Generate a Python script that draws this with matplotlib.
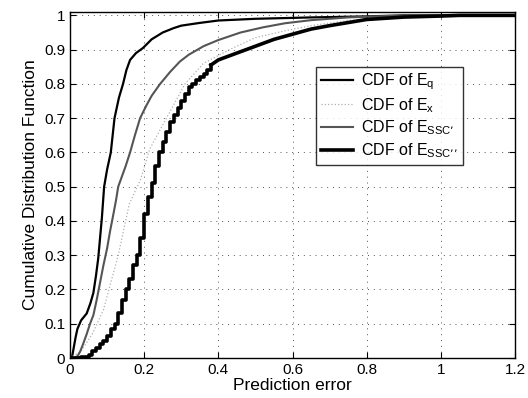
import matplotlib
matplotlib.use("Agg")
import matplotlib.pyplot as plt

plt.rcParams['font.family'] = ['Liberation Sans', 'DejaVu Sans']

# CDF of E_q
xq = [0.0, 0.005, 0.01, 0.015, 0.02, 0.03, 0.045, 0.055, 0.063, 0.07, 0.076, 0.081,
      0.086, 0.092, 0.10, 0.11, 0.12, 0.132, 0.143, 0.152, 0.162, 0.178, 0.197,
      0.22, 0.25, 0.28, 0.30, 0.35, 0.40, 0.50, 0.65, 0.80, 0.90, 1.2]
yq = [0.0, 0.0, 0.03, 0.06, 0.085, 0.11, 0.13, 0.16, 0.19, 0.24, 0.29, 0.35,
      0.41, 0.50, 0.55, 0.60, 0.70, 0.76, 0.80, 0.84, 0.87, 0.89, 0.905,
      0.93, 0.95, 0.963, 0.97, 0.978, 0.985, 0.99, 0.994, 0.997, 1.0, 1.0]

# CDF of E_x
xx = [0.0, 0.03, 0.06, 0.09, 0.13, 0.16, 0.19, 0.215, 0.26, 0.31, 0.36, 0.43,
      0.50, 0.58, 0.65, 0.75, 0.85, 1.0, 1.2]
yx = [0.0, 0.02, 0.07, 0.14, 0.30, 0.45, 0.52, 0.61, 0.70, 0.80, 0.86, 0.90,
      0.935, 0.955, 0.97, 0.985, 0.993, 1.0, 1.0]

# CDF of E_SSC'
xs1 = [0.0, 0.01, 0.02, 0.027, 0.035, 0.045, 0.054, 0.063, 0.072, 0.081, 0.09,
       0.10, 0.108, 0.117, 0.124, 0.13, 0.14, 0.15, 0.162, 0.175, 0.189, 0.205,
       0.22, 0.243, 0.27, 0.296, 0.32, 0.36, 0.40, 0.46, 0.52, 0.58, 0.65, 0.75,
       0.85, 1.0, 1.2]
ys1 = [0.0, 0.0, 0.005, 0.018, 0.04, 0.07, 0.10, 0.125, 0.17, 0.22, 0.27,
       0.32, 0.37, 0.42, 0.46, 0.50, 0.53, 0.56, 0.60, 0.65, 0.70, 0.735,
       0.765, 0.80, 0.835, 0.865, 0.885, 0.91, 0.928, 0.95, 0.965, 0.977, 0.986, 0.994,
       0.998, 1.0, 1.0]

# CDF of E_SSC'' (stepped part, then smooth tail)
xs2 = [0.0, 0.03, 0.05, 0.06, 0.07, 0.08, 0.09, 0.10, 0.11, 0.12, 0.13, 0.14,
       0.15, 0.16, 0.17, 0.18, 0.19, 0.20, 0.21, 0.22, 0.23, 0.24, 0.25, 0.26,
       0.27, 0.28, 0.29, 0.30, 0.31, 0.32, 0.33, 0.34, 0.35, 0.36, 0.37, 0.38]
ys2 = [0.0, 0.003, 0.01, 0.02, 0.03, 0.04, 0.05, 0.065, 0.085, 0.10, 0.13, 0.17,
       0.20, 0.23, 0.27, 0.30, 0.35, 0.42, 0.47, 0.51, 0.56, 0.60, 0.63, 0.66,
       0.69, 0.71, 0.73, 0.75, 0.77, 0.79, 0.80, 0.81, 0.82, 0.83, 0.842, 0.855]
xs2_tail = [0.38, 0.40, 0.45, 0.50, 0.55, 0.60, 0.65, 0.70, 0.80, 0.90, 1.0, 1.05, 1.2]
ys2_tail = [0.855, 0.87, 0.89, 0.91, 0.93, 0.945, 0.96, 0.97, 0.988, 0.995, 0.998, 1.0, 1.0]

xticks = [0, 0.2, 0.4, 0.6, 0.8, 1, 1.2]
xticklabels = ['0', '0.2', '0.4', '0.6', '0.8', '1', '1.2']
yticks = [0, 0.1, 0.2, 0.3, 0.4, 0.5, 0.6, 0.7, 0.8, 0.9, 1]
yticklabels = ['0', '0.1', '0.2', '0.3', '0.4', '0.5', '0.6', '0.7', '0.8', '0.9', '1']

fig = plt.figure(figsize=(5.28, 3.98), dpi=100)
ax = fig.add_axes([0.1326, 0.1005, 0.8428, 0.8695])

ax.plot(xq, yq, color='black', lw=1.6, label='CDF of E$_\\mathregular{q}$')
ax.plot(xx, yx, color='#b0b0b0', lw=0.9, ls=':', label='CDF of E$_\\mathregular{x}$')
ax.plot(xs1, ys1, color='#555555', lw=1.5,
        label='CDF of E$_\\mathregular{SSC\u2019}$')
ax.plot(xs2, ys2, color='black', lw=2.6, drawstyle='steps-post',
        label='CDF of E$_\\mathregular{SSC\u2019\u2019}$')
ax.plot(xs2_tail, ys2_tail, color='black', lw=2.6)

ax.set_xlim(0, 1.2)
ax.set_ylim(0, 1.01)
ax.set_xticks(xticks)
ax.set_xticklabels(xticklabels)
ax.set_yticks(yticks)
ax.set_yticklabels(yticklabels)
ax.tick_params(direction='in', top=True, right=True, labelsize=11, length=4)
ax.grid(True, color='#555555', ls=(0, (1, 5)), lw=0.7)
for s in ax.spines.values():
    s.set_linewidth(1.0)

ax.set_xlabel('Prediction error', fontsize=12.5, labelpad=1)
ax.set_ylabel('Cumulative Distribution Function', fontsize=12.5, labelpad=4)

leg = ax.legend(loc='upper right', bbox_to_anchor=(0.90, 0.865), fontsize=11.5,
                frameon=True, fancybox=False, edgecolor='black', handlelength=2.0,
                borderpad=0.3, labelspacing=0.25, handletextpad=0.5)
leg.get_frame().set_linewidth(1.0)

fig.savefig('out.png', dpi=100)
